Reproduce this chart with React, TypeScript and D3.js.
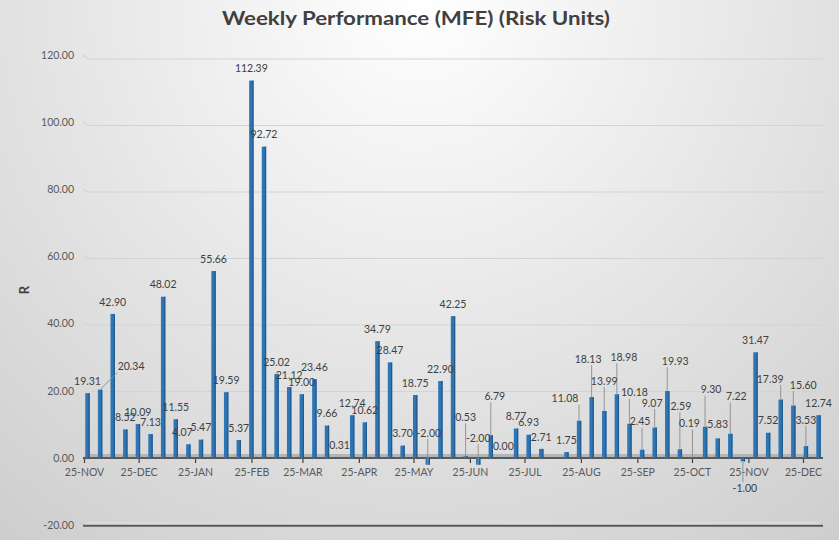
import { useEffect, useRef } from "react";
import * as d3 from "d3";

// weekly MFE in R, one entry per week (null = no trade that week)
const values: (number | null)[] = [
  19.31, 20.34, 42.9, 8.52, 10.09, 7.13, 48.02, 11.55, 4.07, 5.47, 55.66, 19.59,
  5.37, 112.39, 92.72, 25.02, 21.12, 19.0, 23.46, 9.66, 0.31, 12.74, 10.62, 34.79,
  28.47, 3.7, 18.75, -2.0, 22.9, 42.25, 0.53, -2.0, 6.79, 0.0, 8.77, 6.93, 2.71,
  null, 1.75, 11.08, 18.13, 13.99, 18.98, 10.18, 2.45, 9.07, 19.93, 2.59, 0.19,
  9.3, 5.83, 7.22, -1.0, 31.47, 7.52, 17.39, 15.6, 3.53, 12.74,
];

const monthTicks = [
  "25-NOV", "25-DEC", "25-JAN", "25-FEB", "25-MAR", "25-APR", "25-MAY",
  "25-JUN", "25-JUL", "25-AUG", "25-SEP", "25-OCT", "25-NOV", "25-DEC",
];

const yTicks = [-20, 0, 20, 40, 60, 80, 100, 120];

// label moves done by hand in the original (dx, dy in px)
const labelNudge: Record<number, [number, number]> = {
  1: [31, -11], 8: [-6, 0], 27: [1, -13], 30: [0, -27], 31: [0, -8], 32: [4, -27],
  39: [-14, -10], 40: [-3.5, -26], 41: [0, -18], 42: [7, -25], 43: [5, -19],
  44: [-2, -16], 45: [-2.5, -12.5], 46: [8, -18], 47: [1, -31], 48: [-3, -22],
  49: [6, -25], 50: [0, -2], 51: [6, -25], 52: [2, 42], 55: [-10.5, -8.6],
  56: [10, -8.6], 57: [0, -14],
};

const W = 839;
const H = 540;
const FONT = "Lato, 'Open Sans', sans-serif";

export default function App() {
  const svgRef = useRef<SVGSVGElement | null>(null);

  useEffect(() => {
    const svg = d3.select(svgRef.current);
    svg.selectAll("*").remove();

    const left = 83;
    const right = 823;

    const y = d3.scaleLinear().domain([0, 120]).range([458, 55]);
    // back wall is a little further away
    const yBack = d3.scaleLinear().domain([0, 120]).range([458, 59]);

    const x = d3
      .scalePoint<number>()
      .domain(d3.range(values.length))
      .range([87.5, 818.5]);

    const start = new Date(2024, 10, 25);
    const tickDates = monthTicks.map((_, i) => d3.timeMonth.offset(start, i));
    const xTime = d3
      .scaleTime()
      .domain([tickDates[0], tickDates[tickDates.length - 1]])
      .range([84, 803]);

    // background
    const defs = svg.append("defs");
    const grad = defs
      .append("radialGradient")
      .attr("id", "bg")
      .attr("gradientUnits", "userSpaceOnUse")
      .attr("cx", 420)
      .attr("cy", 0)
      .attr("r", 720);
    grad.append("stop").attr("offset", 0).attr("stop-color", "#ffffff");
    grad.append("stop").attr("offset", 1).attr("stop-color", "#cbcbcb");
    svg.append("rect").attr("width", W).attr("height", H).attr("fill", "url(#bg)");

    // title
    svg
      .append("text")
      .attr("x", 416)
      .attr("y", 25)
      .attr("text-anchor", "middle")
      .attr("font-family", FONT)
      .attr("font-weight", 700)
      .attr("font-size", 19)
      .attr("fill", "#404040")
      .attr("textLength", 388)
      .attr("lengthAdjust", "spacingAndGlyphs")
      .text("Weekly Performance (MFE) (Risk Units)");

    // y title
    svg
      .append("text")
      .attr("transform", "translate(29,290) rotate(-90)")
      .attr("text-anchor", "middle")
      .attr("font-family", FONT)
      .attr("font-weight", 700)
      .attr("font-size", 13)
      .attr("fill", "#404040")
      .text("R");

    // gridlines
    svg
      .append("g")
      .selectAll("path")
      .data(yTicks.filter((t) => t > 0))
      .join("path")
      .attr("d", (t) => `M${left},${y(t)} L${left + 5},${yBack(t)} L${right},${yBack(t)}`)
      .attr("fill", "none")
      .attr("stroke", "#d3d3d3")
      .attr("stroke-width", 1.2);

    // y tick labels
    svg
      .append("g")
      .selectAll("text")
      .data(yTicks)
      .join("text")
      .attr("x", 74)
      .attr("y", (t) => y(t))
      .attr("dy", "0.35em")
      .attr("text-anchor", "end")
      .attr("font-family", FONT)
      .attr("font-size", 10.5)
      .attr("fill", "#595959")
      .text((t) => t.toFixed(2));

    // floor plates at 0 and -20
    const plate = (yy: number, fill: string) => {
      svg
        .append("path")
        .attr("d", `M${left},${yy} L${left + 5},${yy - 4} L${right - 5},${yy - 4} L${right},${yy} Z`)
        .attr("fill", fill);
      svg
        .append("line")
        .attr("x1", left)
        .attr("x2", right)
        .attr("y1", yy)
        .attr("y2", yy)
        .attr("stroke", "#595959")
        .attr("stroke-width", 2);
    };
    plate(y(-20) + 0.5, "#dcdcdc");
    plate(y(0), "#b5b5b5");

    // x axis ticks and labels
    const xAxis = svg
      .append("g")
      .attr("transform", `translate(0,${y(0) + 1})`)
      .call(
        d3
          .axisBottom(xTime)
          .tickValues(tickDates)
          .tickFormat((_, i) => monthTicks[i])
          .tickSize(4)
          .tickSizeOuter(0)
      );
    xAxis.select(".domain").remove();
    xAxis.selectAll(".tick line").attr("stroke", "#404040").attr("stroke-width", 1.2);
    xAxis
      .selectAll(".tick text")
      .attr("font-family", FONT)
      .attr("font-size", 10.5)
      .attr("fill", "#595959")
      .attr("y", 10);

    const data = values
      .map((v, i) => ({ v, i }))
      .filter((d): d is { v: number; i: number } => d.v !== null);

    // bars
    const bw = 4.4;
    const bars = svg.append("g");
    bars
      .selectAll("rect.front")
      .data(data)
      .join("rect")
      .attr("class", "front")
      .attr("x", (d) => x(d.i)! - bw / 2)
      .attr("y", (d) => y(Math.max(d.v, 0)))
      .attr("width", bw)
      .attr("height", (d) => Math.max(Math.abs(y(d.v) - y(0)), 0.8))
      .attr("fill", "#2e75b6");
    bars
      .selectAll("rect.side")
      .data(data)
      .join("rect")
      .attr("class", "side")
      .attr("x", (d) => x(d.i)! + bw / 2 - 1.2)
      .attr("y", (d) => y(Math.max(d.v, 0)))
      .attr("width", 1.2)
      .attr("height", (d) => Math.max(Math.abs(y(d.v) - y(0)), 0.8))
      .attr("fill", "#225a8c");

    // labels + leader lines
    const lab = data.map((d) => {
      const [dx, dy] = labelNudge[d.i] ?? [0, 0];
      const bx = x(d.i)!;
      const by = y(d.v);
      const lx = bx + dx;
      const ly = y(Math.max(d.v, 0)) - 12 + dy;
      const text = d.v.toFixed(2);
      const hw = text.length * 2.8;
      const hh = 6;
      const px = Math.max(lx - hw, Math.min(lx + hw, bx));
      const py = Math.max(ly - hh, Math.min(ly + hh, by));
      return { ...d, bx, by, lx, ly, px, py, text, leader: Math.hypot(dx, dy) > 7 };
    });

    svg
      .append("g")
      .selectAll("line")
      .data(lab.filter((d) => d.leader))
      .join("line")
      .attr("x1", (d) => d.bx)
      .attr("y1", (d) => d.by)
      .attr("x2", (d) => d.px)
      .attr("y2", (d) => d.py)
      .attr("stroke", "#8c8c8c")
      .attr("stroke-width", 0.9);

    svg
      .append("g")
      .selectAll("text")
      .data(lab)
      .join("text")
      .attr("x", (d) => d.lx)
      .attr("y", (d) => d.ly)
      .attr("dy", "0.35em")
      .attr("text-anchor", "middle")
      .attr("font-family", FONT)
      .attr("font-size", 10.5)
      .attr("fill", "#404040")
      .text((d) => d.text);
  }, []);

  return (
    <svg
      ref={svgRef}
      width={W}
      height={H}
      style={{ position: "absolute", left: 0, top: 0 }}
    ></svg>
  );
}
